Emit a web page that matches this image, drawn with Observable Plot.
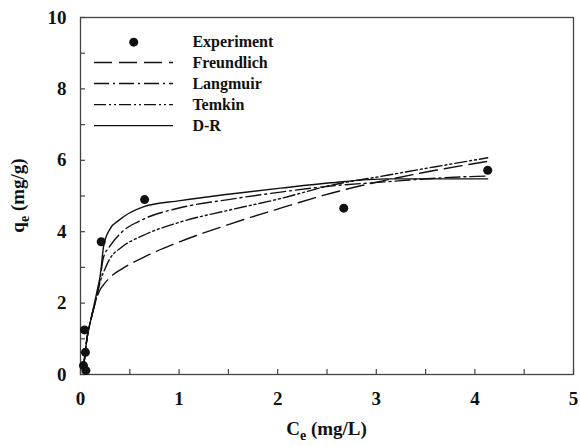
<!DOCTYPE html>
<html>
<head>
<meta charset="utf-8">
<script src="https://cdn.jsdelivr.net/npm/d3@7"></script>
<script src="https://cdn.jsdelivr.net/npm/@observablehq/plot@0.6"></script>
<style>
  html, body { margin: 0; padding: 0; background: #fff; }
  svg text { font-family: "Liberation Serif", "Times New Roman", serif !important; font-weight: bold; }
</style>
</head>
<body>
<div id="chart"></div>
<script>
// Experimental points
const expX = [0.03, 0.055, 0.04, 0.05, 0.21, 0.65, 2.67, 4.13];
const expY = [0.25, 0.11, 1.25, 0.62, 3.72, 4.90, 4.66, 5.72];

// Model curves
const freundlichX = [0.03, 0.065, 0.115, 0.165, 0.2, 0.23, 0.3, 0.42, 0.63, 1.0, 1.5, 2.03, 2.64, 3.11, 3.6, 4.13];
const freundlichY = [0.17, 1.0, 1.65, 2.15, 2.38, 2.5, 2.72, 2.96, 3.27, 3.71, 4.2, 4.66, 5.15, 5.45, 5.72, 5.97];

const langmuirX = [0.03, 0.065, 0.115, 0.165, 0.2, 0.23, 0.3, 0.42, 0.63, 1.01, 1.5, 2.03, 2.54, 3.11, 3.6, 4.13];
const langmuirY = [0.17, 1.0, 1.65, 2.2, 2.7, 3.25, 3.6, 3.99, 4.34, 4.67, 4.9, 5.11, 5.28, 5.4, 5.5, 5.56];

const temkinX = [0.03, 0.065, 0.115, 0.165, 0.2, 0.25, 0.3, 0.42, 0.63, 1.01, 1.5, 2.03, 2.54, 3.11, 3.6, 4.13];
const temkinY = [0.17, 1.0, 1.65, 2.2, 2.6, 2.97, 3.25, 3.57, 3.89, 4.27, 4.6, 4.93, 5.3, 5.58, 5.82, 6.07];

const drX = [0.03, 0.065, 0.115, 0.165, 0.2, 0.235, 0.3, 0.385, 0.63, 1.01, 1.5, 2.03, 2.54, 3.11, 3.6, 4.13];
const drY = [0.17, 1.0, 1.65, 2.3, 2.77, 3.6, 4.08, 4.31, 4.69, 4.87, 5.05, 5.22, 5.37, 5.48, 5.48, 5.48];

const xTickLabels = [0, 1, 2, 3, 4, 5];
const xTicksAll = [0, 0.5, 1, 1.5, 2, 2.5, 3, 3.5, 4, 4.5, 5];
const yTickLabels = [0, 2, 4, 6, 8, 10];
const yTicksAll = [0, 1, 2, 3, 4, 5, 6, 7, 8, 9, 10];

const legendLabels = ["Experiment", "Freundlich", "Langmuir", "Temkin", "D-R"];
const legendRowY = [9.31, 8.74, 8.15, 7.56, 6.97];

const series = [
  {name: "Freundlich", xs: freundlichX, ys: freundlichY, dash: "18,7"},
  {name: "Langmuir", xs: langmuirX, ys: langmuirY, dash: "15,4,2,4"},
  {name: "Temkin", xs: temkinX, ys: temkinY, dash: "12,3,2,3,2,3"},
  {name: "D-R", xs: drX, ys: drY, dash: null}
];

const expRows = expX.map((x, i) => ({x, y: expY[i]}));

const lineMarks = series.map(s =>
  Plot.line(s.xs.map((x, i) => ({x, y: s.ys[i]})), {
    x: "x", y: "y", curve: "monotone-x",
    stroke: "#111", strokeWidth: 1.4,
    strokeDasharray: s.dash || undefined
  })
);

const legendLineMarks = series.map((s, k) =>
  Plot.ruleY([legendRowY[k + 1]], {
    x1: 0.142, x2: 0.943, stroke: "#111", strokeWidth: 1.4,
    strokeDasharray: s.dash || undefined
  })
);

const FONT = "'Liberation Serif', 'Times New Roman', serif";

const chart = Plot.plot({
  width: 580,
  height: 446,
  marginLeft: 80,
  marginRight: 7,
  marginTop: 17,
  marginBottom: 72,
  style: {fontFamily: FONT, fontWeight: "bold", fontSize: "19px", background: "#fff", color: "#111"},
  x: {domain: [0, 5]},
  y: {domain: [0, 10]},
  marks: [
    Plot.frame({stroke: "#444", strokeWidth: 1.3}),
    Plot.axisX({ticks: xTicksAll, tickSize: -5, tickFormat: () => "", label: null, stroke: "#444", strokeWidth: 1.2}),
    Plot.axisX({ticks: xTickLabels, tickSize: 0, tickPadding: 17, tickFormat: d3.format("d"), label: null, fontSize: 19, fontWeight: "bold", fontFamily: FONT}),
    Plot.axisY({ticks: yTicksAll, tickSize: -5, tickFormat: () => "", label: null, stroke: "#444", strokeWidth: 1.2}),
    Plot.axisY({ticks: yTickLabels, tickSize: 0, tickPadding: 14, tickFormat: d3.format("d"), label: null, fontSize: 19, fontWeight: "bold", fontFamily: FONT}),
    ...lineMarks,
    Plot.dot(expRows, {x: "x", y: "y", r: 4.5, fill: "#111", stroke: "none"}),
    // legend
    Plot.dot([legendRowY[0]], {x: () => 0.54, y: d => d, r: 4.5, fill: "#111"}),
    ...legendLineMarks,
    Plot.text(legendLabels, {x: () => 1.135, y: (d, i) => legendRowY[i], text: d => d, textAnchor: "start", fontSize: 16, fontWeight: "bold", fontFamily: FONT, fill: "#111"})
  ]
});

document.getElementById("chart").appendChild(chart);

// Axis titles with subscripts
const svg = d3.select(chart);
const xt = svg.append("text")
  .attr("x", 326.5).attr("y", 435)
  .attr("text-anchor", "middle")
  .attr("font-family", FONT)
  .attr("font-size", 19).attr("font-weight", "bold").attr("fill", "#111");
xt.append("tspan").text("C");
xt.append("tspan").attr("font-size", 14).attr("dy", 5).text("e");
xt.append("tspan").attr("dy", -5).text(" (mg/L)");

const yt = svg.append("text")
  .attr("transform", "translate(24,195.5) rotate(-90)")
  .attr("text-anchor", "middle")
  .attr("font-family", FONT)
  .attr("font-size", 19).attr("font-weight", "bold").attr("fill", "#111");
yt.append("tspan").text("q");
yt.append("tspan").attr("font-size", 14).attr("dy", 5).text("e");
yt.append("tspan").attr("dy", -5).text(" (mg/g)");
</script>
</body>
</html>
